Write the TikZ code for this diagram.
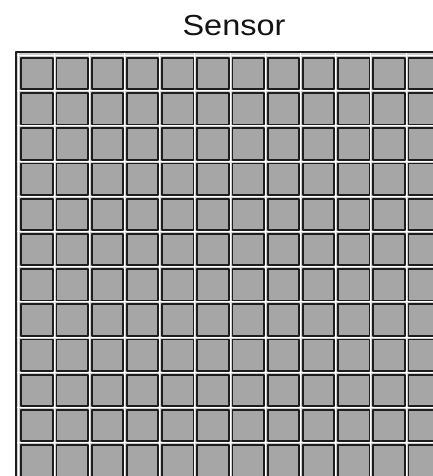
\documentclass[tikz,border=0pt]{standalone}
\usepackage{fontspec}
\setmainfont{Liberation Sans}
\newfontfamily\titlefont[FakeStretch=1.12]{Liberation Sans}
\definecolor{pixelgray}{HTML}{A6A6A6}
\definecolor{gapgray}{HTML}{CDCDCD}
\definecolor{edgegray}{HTML}{1E1E1E}
\tikzset{
  pixel/.style={fill=pixelgray, draw=edgegray, line width=1.8pt},
  gapline/.style={white, line width=0.9pt},
}
\begin{document}
\begin{tikzpicture}[x=1pt, y=-1pt, line join=round]
\useasboundingbox (0,0) rectangle (433,476);
\clip (0,0) rectangle (433,476);
\fill[white] (0,0) rectangle (433,476);
% title
\node[font=\titlefont\fontsize{29}{29}\selectfont, text=black!92, anchor=base] (title) at (234,36) {Sensor};
% sensor background
\fill[gapgray] (15.5,52) rectangle (445,480);
\foreach \k in {0,...,12} {
  \draw[gapline] (16,{55.4+35.2*\k}) -- (445,{55.4+35.2*\k});
  \draw[gapline] ({18.9+35.2*\k},53) -- ({18.9+35.2*\k},480);
}
% pixels
\foreach \c in {0,...,11}
  \foreach \r in {0,...,11}
    \draw[pixel] ({21.3+35.2*\c},{57.9+35.2*\r}) rectangle ++(31.4,31.4);
% frame
\draw[edgegray, line width=2pt] (15.5,480) -- (15.5,52) -- (445,52);
\end{tikzpicture}
\end{document}
